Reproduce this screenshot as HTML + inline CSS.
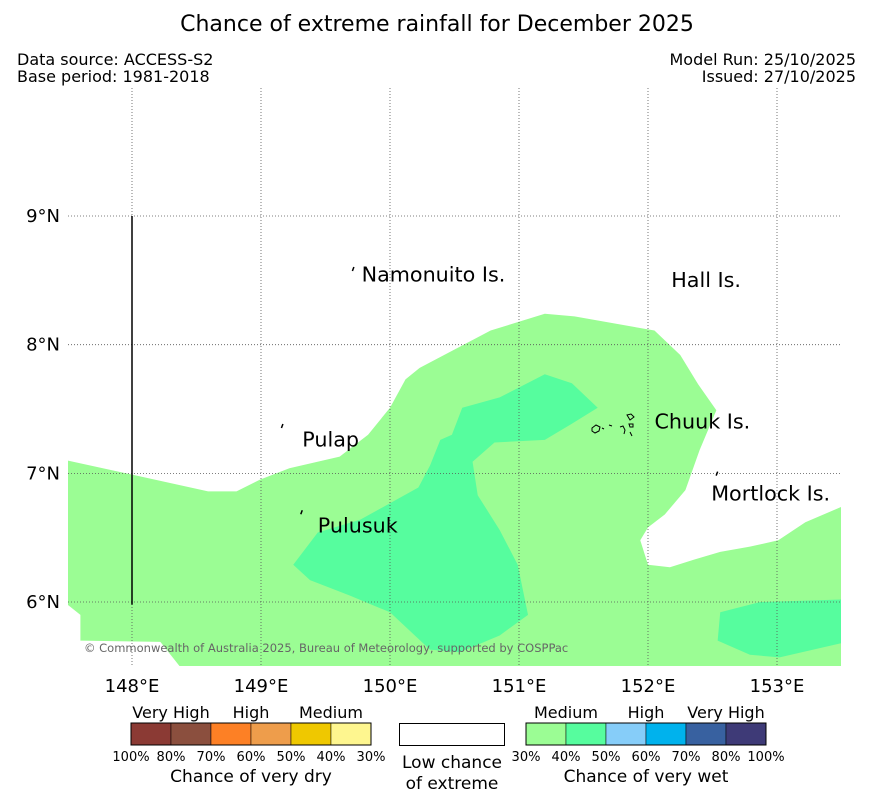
<!DOCTYPE html>
<html><head><meta charset="utf-8"><style>
body{margin:0;background:#fff;font-family:"DejaVu Sans","Liberation Sans",sans-serif;}
svg text{font-family:"DejaVu Sans","Liberation Sans",sans-serif;}
</style></head><body>
<svg id="c" width="873" height="804" xmlns="http://www.w3.org/2000/svg">
<text x="437" y="31" font-size="22" text-anchor="middle">Chance of extreme rainfall for December 2025</text>
<text x="17" y="65" font-size="16">Data source: ACCESS-S2</text>
<text x="17" y="82" font-size="16">Base period: 1981-2018</text>
<text x="856" y="65" font-size="16" text-anchor="end">Model Run: 25/10/2025</text>
<text x="856" y="82" font-size="16" text-anchor="end">Issued: 27/10/2025</text>
<g id="map"></g>
<g id="legend"></g>
</svg>
<script>
const lonTicks=[148,149,150,151,152,153];
const latTicks=[9,8,7,6];
const lonTickLabels=["148°E","149°E","150°E","151°E","152°E","153°E"];
const latTickLabels=["9°N","8°N","7°N","6°N"];
const zone30=[[147.50,7.10],[148.59,6.86],[148.81,6.86],[148.99,6.95],[149.22,7.04],[149.61,7.13],[149.83,7.30],[150.00,7.51],[150.12,7.73],[150.23,7.82],[150.78,8.11],[151.20,8.24],[151.43,8.22],[152.05,8.11],[152.25,7.92],[152.39,7.69],[152.53,7.49],[152.40,7.18],[152.29,6.87],[152.13,6.68],[152.00,6.58],[151.94,6.48],[152.00,6.29],[152.17,6.27],[152.36,6.33],[152.56,6.39],[152.79,6.43],[153.01,6.48],[153.22,6.62],[153.50,6.74],[153.50,5.50],[148.37,5.50],[148.22,5.69],[147.60,5.70],[147.60,5.90],[147.50,5.98]];
const zone40a=[[149.25,6.29],[149.44,6.54],[149.77,6.64],[150.04,6.79],[150.22,6.89],[150.31,7.06],[150.39,7.26],[150.48,7.30],[150.56,7.51],[150.85,7.59],[151.20,7.77],[151.41,7.70],[151.61,7.51],[151.40,7.38],[151.20,7.26],[150.81,7.24],[150.64,7.09],[150.68,6.83],[150.85,6.56],[150.99,6.29],[151.07,5.90],[150.85,5.74],[150.54,5.61],[150.31,5.63],[150.00,5.92],[149.69,6.05],[149.38,6.17]];
const zone40b=[[152.56,5.92],[152.87,6.00],[153.50,6.02],[153.50,5.68],[153.02,5.57],[152.79,5.59],[152.54,5.70]];
const places=["Namonuito Is.","Hall Is.","Chuuk Is.","Pulap","Mortlock Is.","Pulusuk"];
const placeLon=[149.78,152.18,152.05,149.32,152.49,149.44];
const placeLat=[8.49,8.45,7.35,7.21,6.79,6.54];
const dryLabels=["100%","80%","70%","60%","50%","40%","30%"];
const wetLabels=["30%","40%","50%","60%","70%","80%","100%"];
const dryColors=["#8b3a34","#8b4f3e","#fd8025","#ee9d4b","#efc800","#fef68f"];
const wetColors=["#9bfd94","#56fd9e","#86cdf9","#00b2ed","#3861a0","#3e3a77"];

const NS="http://www.w3.org/2000/svg";
const X=lon=>132+(lon-148)*129;
const Y=lat=>216-(lat-9)*128.67;
function mk(parent,tag,attrs){const e=document.createElementNS(NS,tag);for(const k in attrs)e.setAttribute(k,attrs[k]);parent.appendChild(e);return e;}
const map=document.getElementById('map');
const clip=mk(map,'clipPath',{id:'mc'});mk(clip,'rect',{x:68,y:88,width:773,height:578});
const g=mk(map,'g',{'clip-path':'url(#mc)'});
function poly(pts,fill,name){const p=mk(g,'polygon',{points:pts.map(d=>X(d[0])+','+Y(d[1])).join(' '),fill:fill});

}
poly(zone30,'#9bfd94','zone-30-40pct');
poly(zone40a,'#56fd9e','zone-40-50pct-west');
poly(zone40b,'#56fd9e','zone-40-50pct-east');
lonTicks.forEach((l,i)=>{const ln=mk(g,'line',{x1:X(l),x2:X(l),y1:88,y2:666,stroke:'#555','stroke-width':0.8,'stroke-dasharray':'1,2'});


const t=mk(map,'text',{x:X(l),y:692,'font-size':18,'text-anchor':'middle'});t.textContent=lonTickLabels[i];

});
latTicks.forEach((l,i)=>{const ln=mk(g,'line',{x1:68,x2:841,y1:Y(l),y2:Y(l),stroke:'#555','stroke-width':0.8,'stroke-dasharray':'1,2'});


const t=mk(map,'text',{x:60,y:Y(l)+6,'font-size':18,'text-anchor':'end'});t.textContent=latTickLabels[i];

});
const vl=mk(g,'line',{x1:X(148),x2:X(148),y1:Y(9),y2:Y(5.98),stroke:'#000','stroke-width':1.5});


[[149.72,8.58],[152.54,6.99],[149.17,7.36],[149.32,6.69]].forEach(d=>{const m=mk(g,'path',{d:`M${X(d[0])},${Y(d[1])-3} l-1.5,4`,stroke:'#000','stroke-width':1.5,fill:'none'});

});
const ch=mk(g,'g',{stroke:'#000','stroke-width':1,fill:'none'});


mk(ch,'path',{d:'M592,428 l4,-3 l4,2 l-1,4 l-4,2 l-3,-2 z M602,428 l2,1 M609,425 l3,1 M620,427 l3,-1 l2,4 l-1,4 M627,415 l4,-1 l3,3 l-4,3 z M629,424 l4,0 l0,3 l-3,0 z M630,432 l2,4'});
places.forEach((p,i)=>{const t=mk(map,'text',{x:X(placeLon[i]),y:Y(placeLat[i]),'font-size':20.7});t.textContent=p;

});
const cp=mk(map,'text',{x:84,y:652,'font-size':11.5,fill:'#666'});cp.textContent='© Commonwealth of Australia 2025, Bureau of Meteorology, supported by COSPPac';



const lg=document.getElementById('legend');
function txt(x,y,s,size,name,anchor){const t=mk(lg,'text',{x:x,y:y,'font-size':size,'text-anchor':anchor||'middle'});t.textContent=s;

}
dryColors.forEach((c,i)=>{const r=mk(lg,'rect',{x:131+i*40,y:723,width:40,height:22,fill:c,stroke:'#000','stroke-width':0.5});

});
mk(lg,'rect',{x:131,y:723,width:240,height:22,fill:'none',stroke:'#000','stroke-width':1});
wetColors.forEach((c,i)=>{const r=mk(lg,'rect',{x:526+i*40,y:723,width:40,height:22,fill:c,stroke:'#000','stroke-width':0.5});

});
mk(lg,'rect',{x:526,y:723,width:240,height:22,fill:'none',stroke:'#000','stroke-width':1});
const wb=mk(lg,'rect',{x:399.5,y:723.5,width:105,height:22,fill:'#fff',stroke:'#000','stroke-width':1});


dryLabels.forEach((s,i)=>txt(131+i*40,761,s,13,'dry-tick-label'));
wetLabels.forEach((s,i)=>txt(526+i*40,761,s,13,'wet-tick-label'));
txt(171,718,'Very High',16,'dry-category');txt(251,718,'High',16,'dry-category');txt(331,718,'Medium',16,'dry-category');
txt(566,718,'Medium',16,'wet-category');txt(646,718,'High',16,'wet-category');txt(726,718,'Very High',16,'wet-category');
txt(251,782,'Chance of very dry',17,'dry-legend-title');
txt(646,782,'Chance of very wet',17,'wet-legend-title');
txt(452,768,'Low chance',17,'low-chance-label');
txt(452,789,'of extreme',17,'low-chance-label');
</script>
</body></html>
